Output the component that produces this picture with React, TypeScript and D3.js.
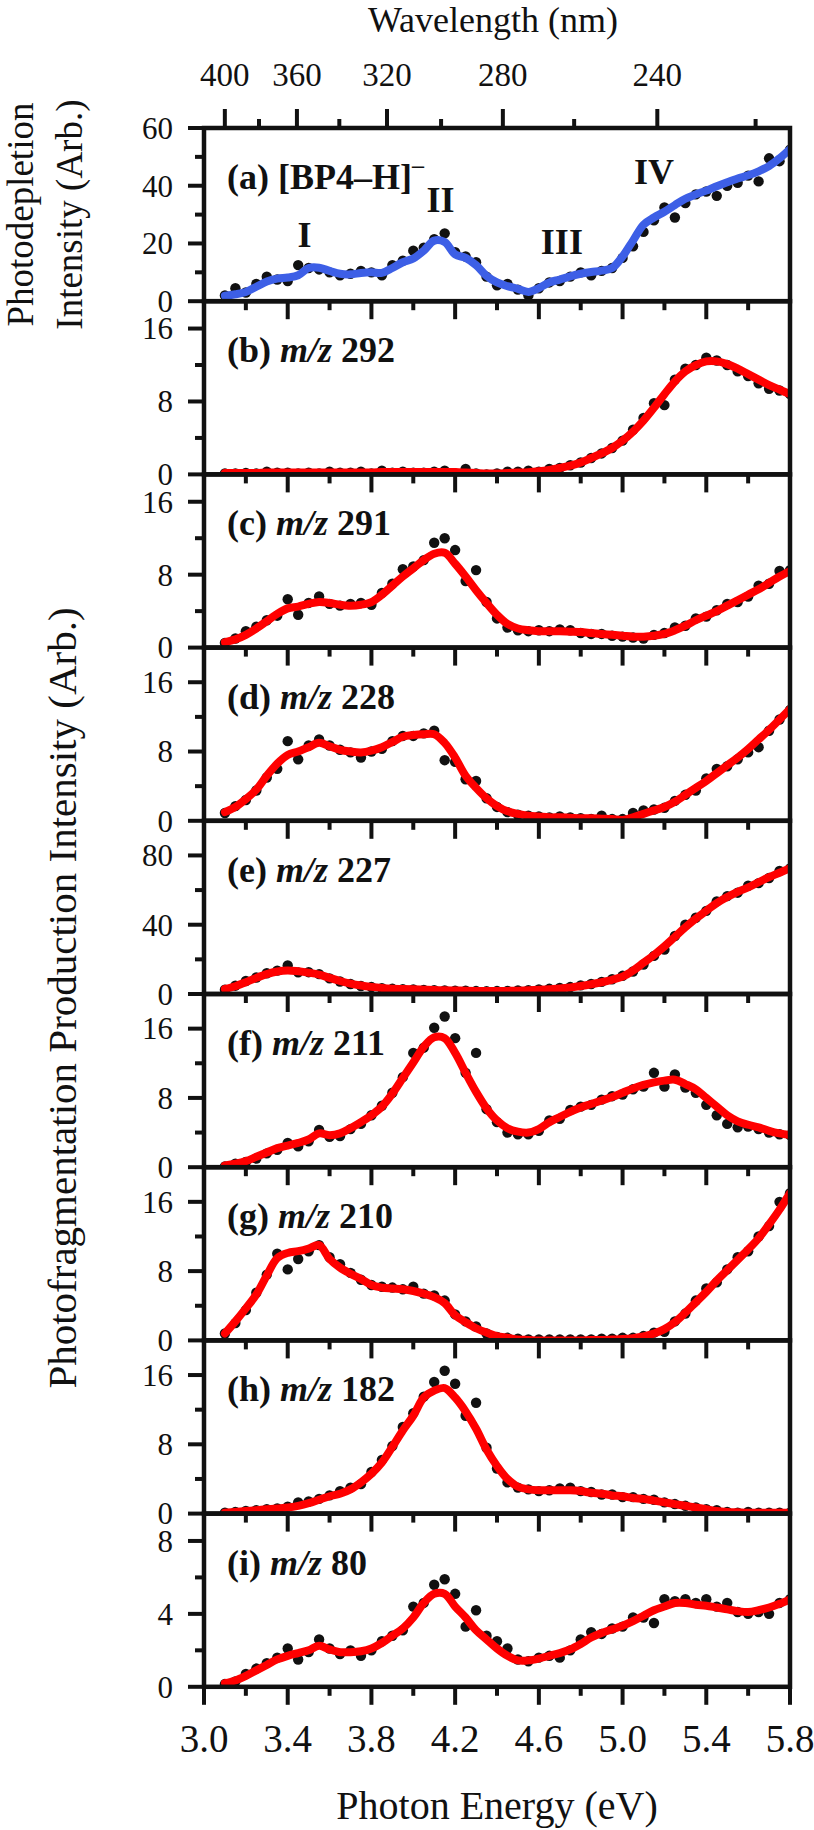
import React from 'react';
import * as d3 from 'd3';

// ---------- data ----------
const energies = [
  3.10, 3.15, 3.20, 3.25, 3.30, 3.35, 3.40, 3.45, 3.50, 3.55,
  3.60, 3.65, 3.70, 3.75, 3.80, 3.85, 3.90, 3.95, 4.00, 4.05,
  4.10, 4.15, 4.20, 4.25, 4.30, 4.35, 4.40, 4.45, 4.50, 4.55,
  4.60, 4.65, 4.70, 4.75, 4.80, 4.85, 4.90, 4.95, 5.00, 5.05,
  5.10, 5.15, 5.20, 5.25, 5.30, 5.35, 5.40, 5.45, 5.50, 5.55,
  5.60, 5.65, 5.70, 5.75, 5.80,
];

const panelTags = ['(a)', '(b)', '(c)', '(d)', '(e)', '(f)', '(g)', '(h)', '(i)'];
const panelMz = ['', '292', '291', '228', '227', '211', '210', '182', '80'];
const yMaxes = [60, 19, 19, 20, 100, 20, 20, 20, 9.5];
const yMajorTicks = [[0, 20, 40, 60], [0, 8, 16], [0, 8, 16], [0, 8, 16], [0, 40, 80], [0, 8, 16], [0, 8, 16], [0, 8, 16], [0, 4, 8]];
const yMinorTicks = [[10, 30, 50], [4, 12], [4, 12], [4, 12], [20, 60], [4, 12], [4, 12], [4, 12], [2, 6]];
const energyMajor = [3.0, 3.4, 3.8, 4.2, 4.6, 5.0, 5.4, 5.8];
const energyMinor = [3.2, 3.6, 4.0, 4.4, 4.8, 5.2, 5.6];
const wavelengthMajor = [400, 360, 320, 280, 240];
const wavelengthMinor = [380, 340, 300, 260, 220];
const bandLabels = ['I', 'II', 'III', 'IV'];
const bandEnergies = [3.48, 4.13, 4.71, 5.15];
const bandHeights = [18.9, 30.9, 16.4, 40.7];

const dotsA = [
  2.0, 4.5, 3.0, 6.0, 8.5, 7.5, 7.0, 12.5, 11.5, 11.0,
  10.0, 9.0, 9.5, 10.5, 10.0, 9.0, 12.5, 14.0, 17.5, 18.5,
  21.5, 23.5, 17.0, 15.5, 13.5, 8.5, 5.5, 6.0, 4.0, 2.0,
  4.5, 6.5, 7.0, 8.5, 10.0, 9.0, 10.5, 11.5, 15.0, 19.0,
  24.0, 28.0, 32.5, 29.0, 34.0, 37.0, 38.0, 36.5, 40.0, 41.0,
  43.5, 41.5, 49.5, 48.5, 52.5,
];
const fitA = [
  1.9, 2.4, 3.2, 5.0, 6.8, 7.8, 8.2, 9.0, 11.5, 11.6,
  10.5, 9.5, 9.3, 9.8, 10.0, 9.8, 11.5, 13.5, 14.8, 17.5,
  21.0, 20.5, 16.2, 15.0, 12.5, 8.8, 6.5, 5.2, 4.3, 3.2,
  4.5, 6.5, 7.5, 8.6, 9.5, 10.1, 10.6, 11.5, 15.5, 21.0,
  26.5, 29.0, 31.0, 33.3, 35.5, 37.0, 38.3, 39.8, 41.2, 42.5,
  43.6, 45.0, 46.8, 49.5, 52.7,
];
const dotsB = [
  0.1, 0.1, 0.15, 0.1, 0.3, 0.2, 0.2, 0.1, 0.2, 0.1,
  0.3, 0.2, 0.2, 0.3, 0.1, 0.4, 0.2, 0.3, 0.2, 0.2,
  0.3, 0.4, 0.1, 0.6, 0.1, 0.0, 0.1, 0.3, 0.3, 0.4,
  0.3, 0.6, 0.7, 1.0, 1.3, 1.8, 2.3, 2.9, 3.7, 4.9,
  6.2, 7.8, 7.6, 10.4, 11.6, 12.0, 12.8, 12.5, 12.0, 11.3,
  10.8, 10.0, 9.4, 9.2, 8.8,
];
const fitB = [
  0.15, 0.15, 0.15, 0.15, 0.2, 0.2, 0.2, 0.2, 0.2, 0.2,
  0.2, 0.2, 0.2, 0.2, 0.2, 0.25, 0.25, 0.25, 0.25, 0.25,
  0.25, 0.25, 0.25, 0.2, 0.15, 0.1, 0.1, 0.15, 0.2, 0.25,
  0.35, 0.5, 0.7, 0.95, 1.3, 1.8, 2.3, 2.9, 3.7, 4.7,
  5.9, 7.3, 8.8, 10.2, 11.3, 12.0, 12.4, 12.4, 12.1, 11.6,
  11.0, 10.4, 9.8, 9.3, 8.8,
];
const dotsC = [
  0.5, 1.0, 1.8, 2.3, 3.0, 3.5, 5.3, 3.6, 4.9, 5.6,
  4.8, 4.6, 4.8, 4.9, 4.7, 6.0, 7.0, 8.6, 8.9, 9.6,
  11.5, 12.0, 10.7, 7.3, 8.5, 5.0, 3.2, 2.2, 1.9, 1.8,
  1.9, 1.8, 2.0, 1.9, 1.6, 1.5, 1.5, 1.3, 1.2, 1.1,
  1.0, 1.4, 1.6, 2.2, 2.4, 3.2, 3.4, 4.1, 4.8, 5.0,
  5.6, 6.8, 7.0, 8.4, 8.5,
];
const fitC = [
  0.6, 0.9, 1.4, 2.1, 2.9, 3.7, 4.3, 4.5, 4.8, 5.0,
  4.9, 4.7, 4.6, 4.7, 5.0, 5.8, 6.8, 7.8, 8.7, 9.6,
  10.3, 10.4, 9.2, 7.8, 6.3, 4.9, 3.6, 2.6, 2.1, 1.9,
  1.8, 1.8, 1.8, 1.75, 1.7, 1.6, 1.5, 1.4, 1.3, 1.2,
  1.2, 1.3, 1.5, 1.9, 2.4, 3.0, 3.5, 4.0, 4.6, 5.2,
  5.8, 6.4, 7.1, 7.8, 8.4,
];
const dotsD = [
  0.9, 1.7, 2.4, 3.5, 5.0, 6.0, 9.2, 7.1, 8.7, 9.4,
  8.7, 8.2, 7.9, 7.3, 8.0, 8.3, 9.2, 9.8, 9.8, 10.1,
  10.4, 7.0, 6.8, 4.8, 4.6, 2.6, 1.6, 1.0, 0.7, 0.6,
  0.5, 0.4, 0.5, 0.4, 0.3, 0.2, 0.6, 0.2, 0.2, 0.9,
  1.2, 1.3, 1.5, 2.3, 3.0, 3.5, 4.9, 6.0, 6.3, 7.1,
  7.9, 8.5, 10.4, 11.7, 12.8,
];
const fitD = [
  1.0, 1.6, 2.5, 3.6, 5.2, 6.6, 7.6, 8.0, 8.5, 9.0,
  8.6, 8.2, 8.0, 7.9, 8.1, 8.5, 9.1, 9.7, 9.9, 10.0,
  10.0, 9.0, 7.3, 5.2, 3.8, 2.6, 1.7, 1.1, 0.8, 0.6,
  0.5, 0.4, 0.4, 0.35, 0.3, 0.3, 0.25, 0.2, 0.1, 0.4,
  0.8, 1.2, 1.6, 2.2, 3.0, 3.8, 4.6, 5.5, 6.4, 7.3,
  8.3, 9.4, 10.5, 11.7, 12.9,
];
const dotsE = [
  2.5, 4.8, 7.5, 9.5, 12.0, 13.5, 16.5, 12.5, 12.6, 11.5,
  9.0, 7.2, 5.8, 4.6, 4.0, 3.4, 3.0, 2.8, 2.6, 2.4,
  2.2, 2.0, 1.9, 1.9, 1.7, 1.6, 1.7, 1.8, 2.0, 2.2,
  2.6, 3.0, 3.5, 4.0, 5.0, 5.8, 7.0, 8.5, 10.5, 13.0,
  17.0, 22.0, 25.6, 33.5, 40.0, 44.0, 48.0, 53.5, 56.5, 58.5,
  62.5, 64.0, 67.0, 71.0, 72.5,
];
const fitE = [
  2.9, 4.5, 6.8, 9.3, 11.5, 13.0, 13.6, 13.1, 12.3, 11.2,
  9.3, 7.5, 6.0, 4.9, 4.1, 3.5, 3.1, 2.9, 2.7, 2.5,
  2.3, 2.1, 2.0, 1.9, 1.8, 1.7, 1.7, 1.8, 1.9, 2.1,
  2.4, 2.8, 3.2, 3.8, 4.6, 5.6, 6.8, 8.2, 10.0, 13.5,
  18.0, 22.5, 27.5, 33.0, 38.5, 43.5, 48.0, 52.5, 56.0, 59.0,
  61.5, 64.5, 67.5, 70.0, 72.7,
];
const dotsF = [
  0.1, 0.4, 0.6, 1.0, 1.6, 2.0, 2.8, 2.4, 3.0, 4.3,
  3.5, 3.6, 4.4, 5.0, 6.0, 7.1, 8.6, 10.4, 13.2, 13.8,
  16.1, 17.4, 14.9, 10.9, 13.2, 6.7, 5.2, 4.0, 3.8, 3.8,
  4.2, 5.4, 5.6, 6.6, 7.0, 7.2, 7.8, 8.2, 8.4, 9.0,
  9.3, 10.9, 9.3, 10.7, 9.2, 8.6, 7.2, 6.0, 5.0, 4.6,
  4.7, 4.4, 4.0, 3.8, 3.7,
];
const fitF = [
  0.2, 0.4, 0.7, 1.2, 1.7, 2.2, 2.5, 2.8, 3.2, 3.9,
  3.7, 3.9, 4.5, 5.2, 6.0, 7.0, 8.5, 10.3, 12.1, 13.9,
  15.0, 14.9, 13.2, 10.9, 8.7, 6.8, 5.4, 4.5, 4.1, 4.0,
  4.4, 5.2, 5.8, 6.4, 6.9, 7.3, 7.7, 8.1, 8.6, 9.1,
  9.5, 9.8, 10.0, 10.1, 9.6, 9.0, 8.0, 7.0, 6.0, 5.3,
  4.9, 4.6, 4.2, 3.9, 3.7,
];
const dotsG = [
  0.8, 2.0, 3.5, 5.5, 7.6, 10.0, 8.2, 9.4, 10.3, 11.0,
  9.6, 8.8, 7.8, 7.0, 6.4, 6.2, 6.1, 5.9, 6.2, 5.4,
  5.2, 4.6, 3.0, 2.2, 1.6, 0.8, 0.4, 0.3, 0.2, 0.1,
  0.1, 0.1, 0.1, 0.1, 0.1, 0.1, 0.2, 0.2, 0.3, 0.3,
  0.5, 0.9, 1.0, 2.2, 3.1, 4.6, 6.0, 6.7, 8.2, 9.6,
  10.3, 12.0, 13.2, 16.0, 17.0,
];
const fitG = [
  0.8, 2.2, 3.7, 5.3, 7.5, 9.5, 10.1, 10.3, 10.6, 11.0,
  9.4, 8.4, 7.7, 7.1, 6.4, 6.1, 6.0, 5.9, 5.7, 5.4,
  5.0, 4.3, 2.9, 2.1, 1.4, 0.9, 0.5, 0.3, 0.1, 0.05,
  0.0, 0.0, 0.0, 0.0, 0.0, 0.05, 0.05, 0.1, 0.15, 0.25,
  0.45, 0.8, 1.3, 2.1, 3.2, 4.4, 5.6, 6.9, 8.1, 9.3,
  10.5, 11.8, 13.4, 15.1, 17.0,
];
const dotsH = [
  0.1, 0.2, 0.3, 0.4, 0.5, 0.6, 0.8, 1.3, 1.4, 1.7,
  2.1, 2.6, 3.0, 3.4, 4.8, 6.2, 7.8, 10.0, 11.6, 13.5,
  15.2, 16.5, 15.0, 11.3, 12.8, 7.6, 5.2, 3.6, 3.0, 2.8,
  2.6, 2.7, 2.9, 3.0, 2.6, 2.5, 2.2, 2.2, 1.9, 1.9,
  1.7, 1.6, 1.3, 1.1, 0.9, 0.7, 0.5, 0.4, 0.2, 0.1,
  0.2, 0.1, 0.1, 0.1, 0.1,
];
const fitH = [
  0.1, 0.2, 0.3, 0.4, 0.5, 0.6, 0.7, 0.9, 1.2, 1.6,
  2.0, 2.3, 2.8, 3.6, 4.6, 5.9, 7.7, 9.6, 11.3, 13.4,
  14.2, 14.5, 13.4, 11.8, 9.8, 7.4, 5.5, 4.0, 3.1, 2.8,
  2.7, 2.7, 2.7, 2.7, 2.6, 2.4, 2.3, 2.1, 2.0, 1.8,
  1.7, 1.5, 1.3, 1.1, 0.9, 0.7, 0.5, 0.3, 0.2, 0.15,
  0.1, 0.1, 0.1, 0.1, 0.1,
];
const dotsI = [
  0.15, 0.3, 0.7, 1.0, 1.3, 1.6, 2.1, 1.5, 1.9, 2.6,
  2.1, 1.8, 2.0, 1.7, 2.0, 2.5, 2.8, 3.1, 4.4, 4.6,
  5.6, 5.9, 5.1, 3.3, 4.2, 2.8, 2.5, 2.1, 1.5, 1.4,
  1.6, 1.7, 1.6, 2.0, 2.6, 3.0, 2.9, 3.2, 3.3, 3.8,
  3.8, 3.5, 4.8, 4.7, 4.8, 4.6, 4.8, 4.4, 4.6, 4.1,
  4.0, 4.1, 4.0, 4.6, 4.8,
];
const fitI = [
  0.2, 0.35, 0.6, 0.9, 1.2, 1.5, 1.7, 1.85, 2.0, 2.25,
  2.05, 1.9, 1.9, 1.95, 2.1, 2.4, 2.8, 3.2, 3.8, 4.6,
  5.1, 5.1, 4.4, 3.8, 3.1, 2.6, 2.1, 1.7, 1.45, 1.45,
  1.55, 1.7, 1.85, 2.05, 2.35, 2.7, 2.95, 3.15, 3.35, 3.6,
  3.9, 4.2, 4.4, 4.6, 4.6, 4.5, 4.45, 4.35, 4.25, 4.15,
  4.1, 4.2, 4.35, 4.55, 4.8,
];

const dotSeries = [dotsA, dotsB, dotsC, dotsD, dotsE, dotsF, dotsG, dotsH, dotsI];
const fitSeries = [fitA, fitB, fitC, fitD, fitE, fitF, fitG, fitH, fitI];
const fitColors = ['#3d5fe6', '#ff0000', '#ff0000', '#ff0000', '#ff0000', '#ff0000', '#ff0000', '#ff0000', '#ff0000'];

// ---------- layout ----------
const W = 814;
const H = 1830;
const LEFT = 204;
const RIGHT = 790;
const TOP = 128;
const PH = 173.2;
const FONT = "'Liberation Serif', 'Times New Roman', Times, serif";
const HC = 1239.84; // eV·nm

export default function App() {
  const x = d3.scaleLinear().domain([3.0, 5.8]).range([LEFT, RIGHT]);
  const bottomAll = TOP + PH * panelTags.length;
  const fmt = d3.format('.1f');

  return (
    <svg
      width={W}
      height={H}
      viewBox={`0 0 ${W} ${H}`}
      style={{ position: 'absolute', left: 0, top: 0, background: '#fff', fontFamily: FONT }}
    >
      <rect x={0} y={0} width={W} height={H} fill="#fff" />
      <defs>
        {panelTags.map((_, k) => (
          <clipPath id={`clip${k}`} key={k}>
            <rect x={LEFT} y={TOP + k * PH} width={RIGHT - LEFT} height={PH} />
          </clipPath>
        ))}
      </defs>

      {/* top wavelength axis */}
      <text x={(LEFT + RIGHT) / 2 - 4} y={32} fontSize={36} textAnchor="middle" fill="#111">
        Wavelength (nm)
      </text>
      {wavelengthMajor.map((w) => (
        <g key={`wm${w}`}>
          <line x1={x(HC / w)} x2={x(HC / w)} y1={TOP} y2={TOP - 19} stroke="#111" strokeWidth={4} />
          <text x={x(HC / w)} y={86} fontSize={33} textAnchor="middle" fill="#111">
            {w}
          </text>
        </g>
      ))}
      {wavelengthMinor.map((w) => (
        <line key={`wn${w}`} x1={x(HC / w)} x2={x(HC / w)} y1={TOP} y2={TOP - 9} stroke="#111" strokeWidth={4} />
      ))}

      {/* left titles */}
      <text transform={`translate(33, ${TOP + PH / 2}) rotate(-90)`} fontSize={37} textAnchor="middle" fill="#111">
        Photodepletion
      </text>
      <text transform={`translate(82, ${TOP + PH / 2}) rotate(-90)`} fontSize={37} textAnchor="middle" fill="#111">
        Intensity (Arb.)
      </text>
      <text
        transform={`translate(76, ${(TOP + PH + bottomAll) / 2 + 4}) rotate(-90)`}
        fontSize={41}
        textAnchor="middle"
        fill="#111"
      >
        Photofragmentation Production Intensity (Arb.)
      </text>

      {panelTags.map((tag, k) => {
        const t = TOP + k * PH;
        const b = t + PH;
        const y = d3.scaleLinear().domain([0, yMaxes[k]]).range([b, t]);
        const line = d3
          .line<number>()
          .x((_, i) => x(energies[i]))
          .y((d) => y(d))
          .curve(d3.curveCatmullRom.alpha(0.5));
        const dots = dotSeries[k];
        return (
          <g key={tag}>
            <g clipPath={`url(#clip${k})`}>
              {dots.map((v, i) => (
                <circle key={i} cx={x(energies[i])} cy={y(v)} r={5.2} fill="#111" />
              ))}
              <path
                d={line(fitSeries[k]) || ''}
                fill="none"
                stroke={fitColors[k]}
                strokeWidth={8}
                strokeLinejoin="round"
                strokeLinecap="round"
              />
            </g>

            {/* frame */}
            <rect x={LEFT} y={t} width={RIGHT - LEFT} height={PH} fill="none" stroke="#111" strokeWidth={4.5} />

            {/* y ticks */}
            {yMajorTicks[k].map((v) => (
              <g key={`ym${v}`}>
                <line x1={LEFT - 16} x2={LEFT} y1={y(v)} y2={y(v)} stroke="#111" strokeWidth={4} />
                <text x={LEFT - 31} y={y(v)} dy="0.35em" fontSize={31} textAnchor="end" fill="#111">
                  {v}
                </text>
              </g>
            ))}
            {yMinorTicks[k].map((v) => (
              <line key={`yn${v}`} x1={LEFT - 9} x2={LEFT} y1={y(v)} y2={y(v)} stroke="#111" strokeWidth={4} />
            ))}

            {/* x ticks (outward, below the panel) */}
            {energyMajor.map((e) => (
              <line key={`xm${e}`} x1={x(e)} x2={x(e)} y1={b} y2={b + 18} stroke="#111" strokeWidth={4} />
            ))}
            {energyMinor.map((e) => (
              <line key={`xn${e}`} x1={x(e)} x2={x(e)} y1={b} y2={b + 9} stroke="#111" strokeWidth={4} />
            ))}

            {/* panel label */}
            {k === 0 ? (
              <text x={227} y={t + 61} fontSize={36} fontWeight="bold" fill="#111">
                <tspan>(a) [BP4–H]</tspan>
                <tspan fontSize={24} dy={-16}>–</tspan>
              </text>
            ) : (
              <text x={227} y={t + 61} fontSize={36} fontWeight="bold" fill="#111">
                <tspan>{tag} </tspan>
                <tspan fontStyle="italic">m/z</tspan>
                <tspan> {panelMz[k]}</tspan>
              </text>
            )}

            {k === 0 &&
              bandLabels.map((lab, i) => (
                <text
                  key={lab}
                  x={x(bandEnergies[i])}
                  y={y(bandHeights[i])}
                  fontSize={36}
                  fontWeight="bold"
                  textAnchor="middle"
                  fill="#111"
                >
                  {lab}
                </text>
              ))}
          </g>
        );
      })}

      {/* bottom energy tick labels */}
      {energyMajor.map((e) => (
        <text key={`xl${e}`} x={x(e)} y={bottomAll + 65} fontSize={39} textAnchor="middle" fill="#111">
          {fmt(e)}
        </text>
      ))}
      <text x={(LEFT + RIGHT) / 2} y={1819} fontSize={40} textAnchor="middle" fill="#111">
        Photon Energy (eV)
      </text>
    </svg>
  );
}
